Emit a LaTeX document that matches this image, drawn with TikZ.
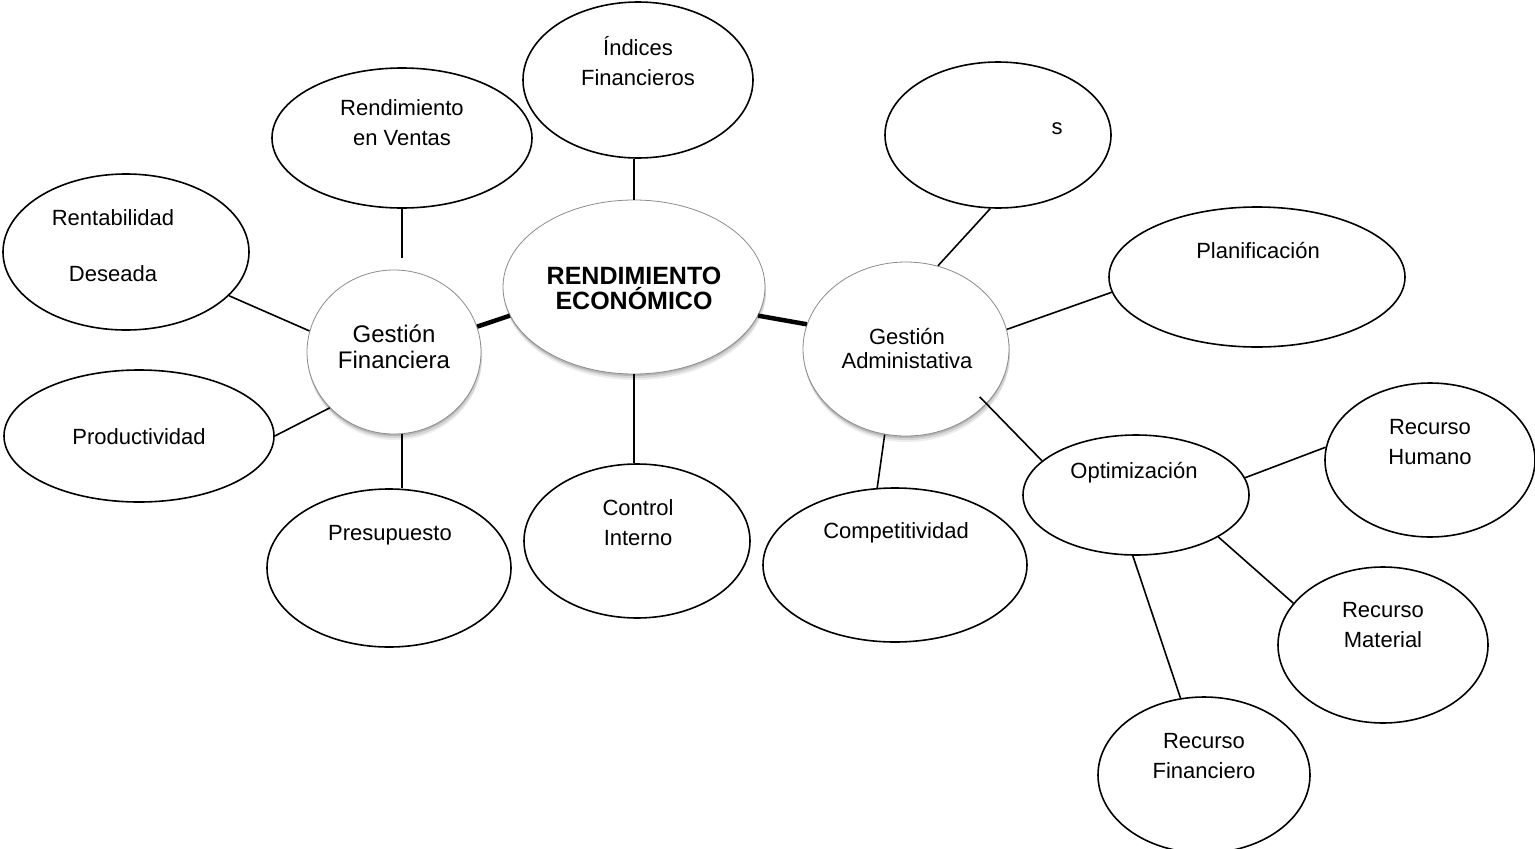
\documentclass[tikz,border=0pt]{standalone}
\usepackage{fontspec}
\setmainfont{Liberation Sans}
\usetikzlibrary{shapes.geometric,shadows,calc}

\begin{document}
\begin{tikzpicture}[x=1pt,y=-1pt,
  bub/.style={ellipse,draw=black,line width=1.6pt,fill=white,inner sep=0pt},
  hub/.style={ellipse,draw=black!45,line width=0.8pt,fill=white,inner sep=0pt,
    general shadow={fill=black,opacity=.07,shadow yshift=-6pt,shadow xshift=1pt},
    general shadow={fill=black,opacity=.10,shadow yshift=-4pt,shadow xshift=1pt},
    general shadow={fill=black,opacity=.14,shadow yshift=-2pt}},
  link/.style={line width=1.6pt},
  mainlink/.style={line width=4.5pt},
  txt/.style={align=center,inner sep=0pt,font=\fontsize{22}{30}\selectfont}]

\useasboundingbox (0,0) rectangle (1535,849);

% outer bubbles
\node[bub,minimum width=230pt,minimum height=156pt] (ind)  at (638,80)  {};
\node[bub,minimum width=260pt,minimum height=140pt] (rv)   at (402,138) {};
\node[bub,minimum width=246pt,minimum height=156pt] (rent) at (126,252) {};
\node[bub,minimum width=270pt,minimum height=132pt] (prod) at (139,436) {};
\node[bub,minimum width=244pt,minimum height=158pt] (pres) at (389,568) {};
\node[bub,minimum width=226pt,minimum height=154pt] (ctl)  at (637,541) {};
\node[bub,minimum width=264pt,minimum height=154pt] (comp) at (895,565) {};
\node[bub,minimum width=226pt,minimum height=120pt] (opt)  at (1136,495) {};
\node[bub,minimum width=210pt,minimum height=154pt] (hum)  at (1430,460) {};
\node[bub,minimum width=210pt,minimum height=156pt] (mat)  at (1383,645) {};
\node[bub,minimum width=212pt,minimum height=156pt] (fin)  at (1204,775) {};
\node[bub,minimum width=296pt,minimum height=140pt] (plan) at (1257,277) {};
\node[bub,minimum width=226pt,minimum height=146pt] (tr)   at (998,135) {};

% central bubbles
\node[hub,minimum width=262pt,minimum height=174pt] (re) at (634,287) {};
\node[hub,minimum width=174pt,minimum height=164pt] (gf) at (394,352) {};
\node[hub,minimum width=206pt,minimum height=174pt] (ga) at (906,349) {};

% connectors
\draw[mainlink] (gf.17) -- (re.193);
\draw[mainlink] (re.-13) -- (ga.166);
\draw[link] (re.north |- ind.south) -- (re.north);
\draw[link] (re.south) -- (re.south |- ctl.north);
\draw[link] (rv.south) -- ($(rv.south |- gf.north)+(0,-12)$);
\draw[link] (rent.-23) -- (gf.166);
\draw[link] (prod.0) -- (gf.221);
\draw[link] ($(gf.south)+(8,0)$) -- ($(gf.south |- pres.north)+(8,0)$);
\draw[link] (ga.69) -- (tr.264);
\draw[link] (ga.11) -- (plan.186);
\draw[link] ($(ga.center)!0.9!(ga.-33)$) -- (opt.160);
\draw[link] (ga.256) -- (comp.103);
\draw[link] (opt.9) -- (hum.173);
\draw[link] (opt.-27) -- (mat.155);
\draw[link] (opt.267) -- (fin.107);

% labels
\node[txt] (t-ind)  at (638,61)  {Índices\\Financieros};
\node[txt] (t-rv)   at (402,123) {Rendimiento\\en Ventas};
\node[txt] (t-rent) at (113,246) {Rentabilidad\\[26pt]Deseada};
\node[txt] (t-prod) at (139,437) {Productividad};
\node[txt] (t-pres) at (390,535) {Presupuesto};
\node[txt] (t-ctl)  at (638,523) {Control\\Interno};
\node[txt] (t-comp) at (896,533) {Competitividad};
\node[txt] (t-opt)  at (1134,473) {Optimización};
\node[txt] (t-hum)  at (1430,442) {Recurso\\Humano};
\node[txt] (t-mat)  at (1383,625) {Recurso\\Material};
\node[txt] (t-fin)  at (1204,756) {Recurso\\Financiero};
\node[txt] (t-plan) at (1258,251) {Planificación};
\node[txt] (t-tr)   at (1057,129) {s};
\node[txt,font=\fontsize{25}{25}\selectfont\bfseries] (t-re) at (634,288) {RENDIMIENTO\\ECONÓMICO};
\node[txt,font=\fontsize{24}{26}\selectfont] (t-gf) at (394,347) {Gestión\\Financiera};
\node[txt,font=\fontsize{22}{24}\selectfont] (t-ga) at (907,349) {Gestión\\Administativa};

\end{tikzpicture}
\end{document}
